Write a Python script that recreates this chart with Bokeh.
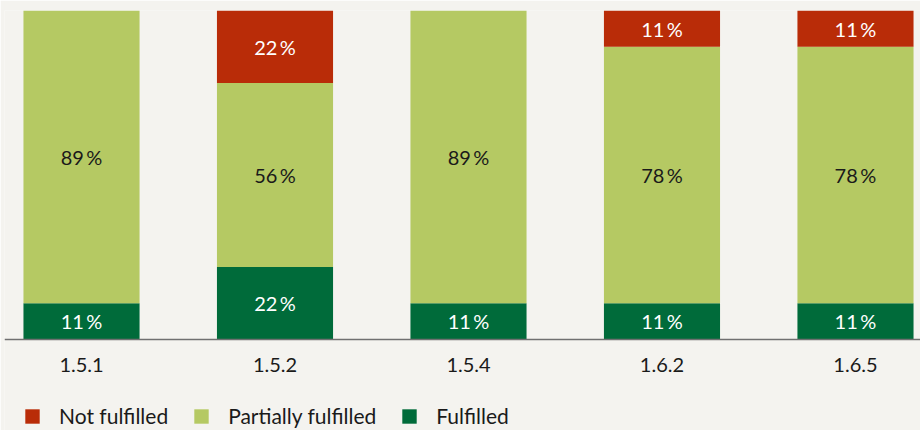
import numpy as np
from bokeh.plotting import figure
from bokeh.models import (ColumnDataSource, Range1d, FixedTicker, Legend, LegendItem)
from bokeh.core.properties import value
from bokeh.embed import file_html
from bokeh.resources import INLINE

categories = ["1.5.1", "1.5.2", "1.5.4", "1.6.2", "1.6.5"]
fulfilled = [11, 22, 11, 11, 11]
partially = [89, 56, 89, 78, 78]
not_fulfilled = [0, 22, 0, 11, 11]
series_names = ["Not fulfilled", "Partially fulfilled", "Fulfilled"]

BG = "#f4f3ef"
C_RED = "#b92c08"
C_LIGHT = "#b5c963"
C_DARK = "#006b3a"
FONT = "Lato"
TXT = "#1a1a1a"

xs = np.arange(len(categories))
src = ColumnDataSource(dict(x=xs, fulfilled=fulfilled, partially=partially,
                            not_fulfilled=not_fulfilled))

# frame spans the full height; the value axis 0..100 occupies the top 329 px
p = figure(width=920, height=430, output_backend="svg", toolbar_location=None,
           x_range=Range1d(-0.398, 4.336), y_range=Range1d(-100 * 91 / 329, 100),
           min_border_left=4, min_border_right=0, min_border_top=10,
           min_border_bottom=0)
p.background_fill_color = BG
p.border_fill_color = BG
p.outline_line_color = None
p.xgrid.visible = False
p.ygrid.visible = False
p.yaxis.visible = False

rs = p.vbar_stack(["fulfilled", "partially", "not_fulfilled"], x="x", width=0.6,
                  color=[C_DARK, C_LIGHT, C_RED], line_color=None, source=src)

# segment labels
f = np.array(fulfilled, dtype=float)
pa = np.array(partially, dtype=float)
nf = np.array(not_fulfilled, dtype=float)
segs = [(f, np.zeros_like(f), "white"), (pa, f, TXT), (nf, f + pa, "white")]
lx, ly, lt, lc = [], [], [], []
for vals, base, col in segs:
    for i, v in enumerate(vals):
        if v > 0:
            lx.append(xs[i]); ly.append(base[i] + v / 2)
            lt.append(f"{int(v)}\u2009%"); lc.append(col)
lsrc = ColumnDataSource(dict(x=lx, y=ly, t=lt, c=lc))
p.text(x="x", y="y", text="t", source=lsrc, text_color="c",
       text_font=value(FONT), text_font_size="20px",
       text_align="center", text_baseline="middle")

ax = p.xaxis[0]
ax.fixed_location = 0
ax.ticker = FixedTicker(ticks=list(xs))
ax.major_label_overrides = {int(i): c for i, c in zip(xs, categories)}
ax.major_tick_line_color = None
ax.minor_tick_line_color = None
ax.axis_line_color = "#707070"
ax.axis_line_width = 1.4
ax.major_label_text_font = FONT
ax.major_label_text_font_size = "20px"
ax.major_label_text_color = TXT
ax.major_label_standoff = 12

legend = Legend(items=[LegendItem(label=series_names[0], renderers=[rs[2]]),
                       LegendItem(label=series_names[1], renderers=[rs[1]]),
                       LegendItem(label=series_names[2], renderers=[rs[0]])],
                orientation="horizontal", location=(19, 2))
legend.label_text_font = FONT
legend.label_text_font_size = "21px"
legend.label_text_color = TXT
legend.label_height = 20
legend.glyph_width = 18
legend.glyph_height = 18
legend.label_standoff = 18
legend.spacing = 24
legend.margin = 0
legend.padding = 0
legend.border_line_color = None
legend.background_fill_alpha = 0
p.add_layout(legend)

open("out.html", "w").write(file_html(p, INLINE))
